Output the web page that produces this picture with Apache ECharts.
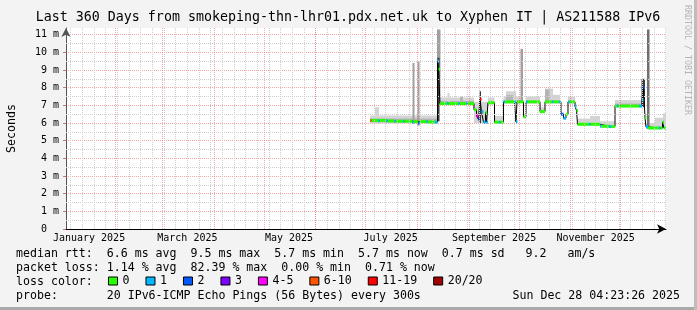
<!DOCTYPE html>
<html><head><meta charset="utf-8">
<script src="https://cdn.jsdelivr.net/npm/echarts@6/dist/echarts.min.js"></script>
<style>html,body{margin:0;padding:0;background:#f3f3f3}#c{width:697px;height:310px}</style>
</head><body><div id="c"></div>
<script>
const FONT = '"DejaVu Sans Mono", monospace';
const titleText = 'Last 360 Days from smokeping-thn-lhr01.pdx.net.uk to Xyphen IT | AS211588 IPv6';
const startTime = '2025-01-02T04:23:26';
const endTime = '2025-12-28T04:23:26';

// median rtt (ms), step changes; value holds until the next date
const medianDates = [
 '2025-07-03T14:00','2025-07-04T11:00','2025-07-08T09:00','2025-07-09T07:00','2025-07-13T04:00',
 '2025-07-14T02:00','2025-07-17T23:00','2025-07-18T21:00','2025-07-23T09:00','2025-07-24T07:00',
 '2025-07-28T19:00','2025-07-29T16:00','2025-08-01T09:00','2025-08-02T07:00','2025-08-06T04:00',
 '2025-08-07T02:00','2025-08-11T14:00','2025-08-13T02:00','2025-08-13T16:00','2025-08-14T14:00',
 '2025-08-18T19:00','2025-08-19T16:00','2025-08-25T09:00','2025-08-26T07:00','2025-08-30T04:00',
 '2025-08-31T02:00','2025-09-03T23:00','2025-09-05T12:00','2025-09-06T16:00','2025-09-07T14:00',
 '2025-09-08T12:00','2025-09-09T16:00','2025-09-10T21:00','2025-09-11T12:00','2025-09-12T09:00',
 '2025-09-16T07:00','2025-09-18T23:00','2025-09-19T21:00','2025-09-21T16:00','2025-09-22T14:00',
 '2025-09-28T07:00','2025-09-29T04:00','2025-09-29T19:00','2025-10-03T16:00','2025-10-05T04:00',
 '2025-10-06T02:00','2025-10-13T14:00','2025-10-16T14:00','2025-10-20T19:00','2025-10-21T16:00',
 '2025-10-24T23:00','2025-10-26T04:00','2025-10-27T16:00','2025-10-29T04:00','2025-10-30T09:00',
 '2025-10-31T07:00','2025-11-03T14:00','2025-11-04T12:00','2025-11-05T02:00','2025-11-11T23:00',
 '2025-11-12T21:00','2025-11-18T14:00','2025-11-19T12:00','2025-11-23T23:00','2025-11-25T04:00',
 '2025-11-27T14:00','2025-11-28T19:00','2025-11-29T16:00','2025-12-12T07:00','2025-12-13T19:00',
 '2025-12-14T16:00','2025-12-15T14:00','2025-12-16T04:00','2025-12-17T09:00','2025-12-23T23:00',
 '2025-12-24T21:00','2025-12-26T02:00','2025-12-26T23:00','2025-12-28T04:00'
];
const medianValues = [
 6.15,6.15,6.12,6.15,6.12, 6.12,6.10,6.10,6.10,6.10,
 6.05,6.08,6.00,6.08,6.08, 6.06,6.05,9.50,9.05,7.10,
 7.12,7.10,7.10,7.10,7.12, 7.10,6.75,6.40,6.20,7.35,
 6.65,6.05,6.60,6.05,7.15, 6.05,6.05,6.05,7.20,7.20,
 7.20,6.07,7.20,6.35,7.20, 7.20,6.65,7.20,7.20,7.20,
 7.20,6.50,6.27,6.50,7.20, 7.20,6.95,6.70,5.93,5.93,
 5.93,5.83,5.82,5.80,5.80, 6.96,6.96,6.96,6.96,7.30,
 8.00,6.30,5.78,5.72,5.72, 5.72,6.05,5.72,5.72
];
// loss colour class of each step (index into lossLabels)
const medianLoss = [
 5,0,1,0,1, 0,1,0,1,0,
 1,0,2,0,1, 0,1,1,0,0,
 1,0,1,0,1, 0,0,4,2,6,
 1,1,0,1,0, 0,1,0,1,0,
 1,1,0,0,1, 0,0,0,1,0,
 1,2,1,0,1, 0,1,0,0,1,
 0,1,0,1,0, 0,1,0,1,1,
 2,0,1,0,1, 0,0,0,0
];
const lossLabels = ['0','1','2','3','4-5','6-10','11-19','20/20'];
const lossColors = ['#26ff00','#00b8ff','#0059ff','#7e00ff','#ff00ff','#ff5500','#ff0000','#a10000'];

// smoke (ping spread), ms
const smokeStart = [
 '2025-07-03T14:00','2025-07-06T14:00','2025-07-03T14:00','2025-07-29T02:00','2025-08-01T02:00',
 '2025-08-12T19:00','2025-08-13T02:00','2025-08-14T14:00','2025-08-14T14:00','2025-08-19T02:00',
 '2025-08-26T14:00','2025-09-03T23:00','2025-09-07T07:00','2025-09-12T09:00','2025-09-16T07:00',
 '2025-09-21T16:00','2025-09-23T04:00','2025-09-23T04:00','2025-10-01T21:00','2025-10-05T04:00',
 '2025-10-13T14:00','2025-10-16T14:00','2025-10-16T14:00','2025-10-16T14:00','2025-10-30T09:00',
 '2025-11-05T02:00','2025-11-12T14:00','2025-11-18T14:00','2025-11-27T14:00','2025-11-27T14:00',
 '2025-12-13T12:00','2025-12-16T04:00','2025-12-21T14:00','2025-12-26T09:00','2025-12-16T19:00'
];
const smokeEnd = [
 '2025-08-12T19:00','2025-07-08T23:00','2025-08-12T19:00','2025-07-30T07:00','2025-08-02T07:00',
 '2025-08-14T21:00','2025-08-14T07:00','2025-09-03T23:00','2025-09-03T23:00','2025-08-20T07:00',
 '2025-08-28T09:00','2025-09-12T09:00','2025-09-08T04:00','2025-09-16T07:00','2025-09-21T16:00',
 '2025-10-01T21:00','2025-09-29T04:00','2025-09-27T09:00','2025-10-03T09:00','2025-10-13T14:00',
 '2025-10-16T14:00','2025-10-25T14:00','2025-10-21T09:00','2025-10-19T14:00','2025-11-03T14:00',
 '2025-11-18T14:00','2025-11-18T14:00','2025-11-27T14:00','2025-12-13T12:00','2025-12-13T12:00',
 '2025-12-15T14:00','2025-12-28T04:00','2025-12-28T04:00','2025-12-28T04:00','2025-12-18T07:00'
];
const smokeLo = [
 5.98,6.40,6.05,5.95,5.85, 7.10,6.10,7.00,7.05,7.20,
 7.20,6.00,6.00,7.05,5.98, 7.10,7.20,7.15,7.20,7.10,
 6.55,7.10,7.20,7.20,7.10, 5.85,6.10,5.72,6.90,6.92,
 6.90,5.65,5.75,5.80,5.70
];
const smokeHi = [
 6.42,6.90,6.25,9.40,9.50, 11.30,9.70,7.45,7.25,7.70,
 7.50,7.20,7.80,7.45,6.40, 7.50,7.80,7.58,10.20,7.50,
 6.90,7.60,7.95,7.90,7.50, 6.25,6.40,6.10,7.30,7.10,
 8.50,6.00,6.30,6.55,11.30
];
const smokeDensity = [
 1,1,2,4,4, 4,3,1,2,1,
 2,1,3,1,1, 1,1,2,4,1,
 1,1,1,2,1, 1,1,1,1,2,
 3,1,1,1,5
];
const smokeColors = {1:'#d4d4d4', 2:'#b4b4b4', 3:'#3a3a3a', 4:'#a0a0a0', 5:'#707070'};

const monthStarts = ['2025-02-01','2025-03-01','2025-04-01','2025-05-01','2025-06-01','2025-07-01',
 '2025-08-01','2025-09-01','2025-10-01','2025-11-01','2025-12-01'];
const monthLabelDates = ['2025-01-16T00:00','2025-03-16T00:00','2025-05-16T00:00','2025-07-16T00:00','2025-09-16T00:00','2025-11-16T00:00'];
const monthLabels = ['January 2025','March 2025','May 2025','July 2025','September 2025','November 2025'];
const yMinorLines = [0.5,1.5,2.5,3.5,4.5,5.5,6.5,7.5,8.5,9.5,10.5];

const statsLines = [
 'median rtt:  6.6 ms avg  9.5 ms max  5.7 ms min  5.7 ms now  0.7 ms sd   9.2   am/s',
 'packet loss: 1.14 % avg  82.39 % max  0.00 % min  0.71 % now',
 'loss color:',
 'probe:       20 IPv6-ICMP Echo Pings (56 Bytes) every 300s'
];
const stampText = 'Sun Dec 28 04:23:26 2025';
const sideText = 'RRDTOOL / TOBI OETIKER';

const ts = s => new Date(s).getTime();
const T0 = ts(startTime), T1 = ts(endTime);
const monthLabelTs = monthLabelDates.map(ts);

// weekly (Sunday) minor grid
const weekTs = [];
for (let d = new Date(2025, 0, 5); d.getTime() < T1; d = new Date(d.getFullYear(), d.getMonth(), d.getDate() + 7)) weekTs.push(d.getTime());

const gridLineData = [];
weekTs.forEach(t => gridLineData.push({xAxis: t, lineStyle: {color: '#cfcfcf', type: [1, 1], width: 1}}));
yMinorLines.forEach(v => gridLineData.push({yAxis: v, lineStyle: {color: '#cfcfcf', type: [1, 1], width: 1}}));
monthStarts.forEach(m => gridLineData.push({xAxis: ts(m + 'T00:00'), lineStyle: {color: 'rgba(235,80,80,0.5)', type: [1, 1], width: 1}}));

const smokeData = smokeStart.map((s, i) => [ts(s), ts(smokeEnd[i]), smokeLo[i], smokeHi[i], smokeDensity[i]]);
const medianLine = medianDates.map((d, i) => [ts(d), medianValues[i]]);
const medianSegs = medianDates.slice(0, -1).map((d, i) => [ts(d), ts(medianDates[i + 1]), medianValues[i], medianLoss[i]]);

const chart = echarts.init(document.getElementById('c'), null, {renderer: 'canvas'});
const series = [
 {type: 'line', data: [], z: 1, silent: true, animation: false,
  markLine: {silent: true, symbol: ['none', 'none'], label: {show: false}, animation: false, emphasis: {disabled: true}, data: gridLineData}},
 {type: 'custom', name: 'smoke', z: 2, silent: true, animation: false, clip: true,
  encode: {x: [0, 1], y: [2, 3]}, data: smokeData,
  renderItem: function (params, api) {
   const p0 = api.coord([api.value(0), api.value(3)]);
   const p1 = api.coord([api.value(1), api.value(2)]);
   return {type: 'rect', shape: {x: p0[0], y: p0[1], width: Math.max(1.5, p1[0] - p0[0]), height: p1[1] - p0[1]},
    style: {fill: smokeColors[api.value(4)]}};
  }},
 {type: 'line', name: 'median', data: medianLine, step: 'end', symbol: 'none', z: 3, silent: true, animation: false,
  lineStyle: {color: '#000', width: 1}},
 {type: 'custom', name: 'medianLoss', z: 4, silent: true, animation: false,
  encode: {x: [0, 1], y: 2}, data: medianSegs,
  renderItem: function (params, api) {
   const p0 = api.coord([api.value(0), api.value(2)]);
   const p1 = api.coord([api.value(1), api.value(2)]);
   return {type: 'rect', shape: {x: p0[0], y: p0[1] - 1.5, width: Math.max(1.5, p1[0] - p0[0]), height: 3},
    style: {fill: lossColors[api.value(3)]}};
  }}
];
lossLabels.forEach((n, i) => series.push({type: 'line', name: n, data: [], itemStyle: {color: lossColors[i]}, lineStyle: {color: lossColors[i]}}));

const graphic = [
 {type: 'rect', shape: {x: 0, y: 307, width: 697, height: 3}, style: {fill: '#a9a9a9'}, silent: true},
 {type: 'rect', shape: {x: 694, y: 0, width: 3, height: 310}, style: {fill: '#bdbdbd'}, silent: true},
 {type: 'text', x: 348, y: 18, silent: true,
  style: {text: titleText, font: '13.3px ' + FONT, fill: '#000', align: 'center', verticalAlign: 'middle'}},
 {type: 'text', x: 687, y: 5, rotation: -Math.PI / 2, silent: true,
  style: {text: sideText, font: '8.3px ' + FONT, fill: '#b5b5b5', align: 'left', verticalAlign: 'middle'}}
];
const rowY = [254.3, 268.3, 282.3, 296.3];
statsLines.forEach((t, i) => graphic.push({type: 'text', x: 16, y: rowY[i], silent: true,
 style: {text: t, font: '11.6px ' + FONT, fill: '#000', align: 'left', verticalAlign: 'middle'}}));
graphic.push({type: 'text', x: 680, y: rowY[3], silent: true,
 style: {text: stampText, font: '11.6px ' + FONT, fill: '#000', align: 'right', verticalAlign: 'middle'}});

chart.setOption({
 backgroundColor: '#f3f3f3',
 animation: false,
 grid: {left: 66, right: 31, top: 28, bottom: 81, show: true, backgroundColor: '#ffffff', borderWidth: 0,
  containLabel: false, outerBoundsMode: 'none'},
 legend: {data: lossLabels, left: 108, top: 275, padding: 0, icon: 'rect', itemWidth: 9, itemHeight: 8, itemGap: 16,
  selectedMode: false, itemStyle: {borderColor: '#000', borderWidth: 1},
  textStyle: {fontFamily: FONT, fontSize: 11.6, color: '#000', padding: [0, 0, 0, 0]}},
 xAxis: {type: 'value', min: T0, max: T1, scale: true,
  axisLine: {show: true, onZero: false, lineStyle: {color: '#000', width: 1}, symbol: ['none', 'arrow'], symbolSize: [7, 9]},
  axisTick: {show: false}, splitLine: {show: false},
  axisLabel: {customValues: monthLabelTs, hideOverlap: false,
   formatter: v => { const k = monthLabelTs.indexOf(v); return k >= 0 ? monthLabels[k] : ''; },
   fontFamily: FONT, fontSize: 10, color: '#000', margin: 4}},
 yAxis: {type: 'value', min: 0, max: 11.38, interval: 1,
  name: 'Seconds', nameLocation: 'middle', nameGap: 48,
  nameTextStyle: {fontFamily: FONT, fontSize: 11.6, color: '#000'},
  axisLine: {show: true, lineStyle: {color: '#555', width: 1}, symbol: ['none', 'arrow'], symbolSize: [7, 9]},
  axisTick: {show: true, length: 3, lineStyle: {color: 'rgba(200,60,60,0.7)'}},
  axisLabel: {formatter: v => v === 0 ? '0  ' : v + ' m', fontFamily: FONT, fontSize: 10, color: '#000', margin: 7, showMaxLabel: false},
  splitLine: {show: true, showMaxLine: false, showMinLine: false, lineStyle: {color: 'rgba(235,80,80,0.5)', type: [1, 1], width: 1}}},
 series: series,
 graphic: graphic
});
</script></body></html>
